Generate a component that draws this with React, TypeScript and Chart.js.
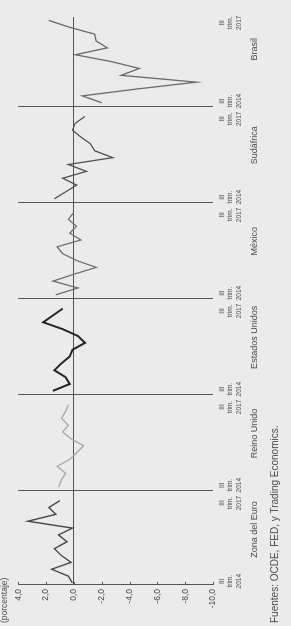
import React, { useEffect, useRef } from 'react';
import { Chart, registerables } from 'chart.js';

Chart.register(...registerables);

// ---- data ----
const regions = ['Zona del Euro', 'Reino Unido', 'Estados Unidos', 'México', 'Sudáfrica', 'Brasil'];
const quarters = [
  'III 2014', 'IV 2014', 'I 2015', 'II 2015', 'III 2015', 'IV 2015',
  'I 2016', 'II 2016', 'III 2016', 'IV 2016', 'I 2017', 'II 2017', 'III 2017',
];
const firstTickLabel = ['III', 'trim.', '2014'];
const lastTickLabel = ['III', 'trim.', '2017'];

const zonaDelEuro = [0.1, 0.4, 1.6, 0.2, 0.9, 1.4, 0.5, 1.1, 0.1, 3.3, 1.3, 1.8, 1.0];
const reinoUnido = [1.1, 0.9, 0.6, 1.2, 0.3, -0.2, -0.7, 0.2, 0.8, 0.4, 0.9, 0.6, 0.4];
const estadosUnidos = [1.5, 0.3, 0.6, 1.4, 0.9, 0.3, 0.1, -0.8, -0.3, 0.8, 2.2, 1.5, 0.8];
const mexico = [1.3, -0.3, 1.5, 0.0, -1.6, -0.2, 0.8, 1.2, -0.5, 0.3, -0.2, 0.4, 0.0];
const sudafrica = [1.4, 0.6, -0.2, 0.8, -0.9, 0.4, -2.8, -1.5, -1.2, -0.5, 0.1, -0.1, -0.8];
const brasil = [-2.0, -0.6, -4.5, -8.8, -3.4, -4.7, -2.7, -0.1, -2.4, -1.6, -1.5, 0.3, 1.8];

const seriesValues = [zonaDelEuro, reinoUnido, estadosUnidos, mexico, sudafrica, brasil];

const yMin = -10;
const yMax = 4;
const yStep = 2;
const axisTitle = '(porcentaje)';
const sourceText = 'Fuentes: OCDE, FED, y Trading Economics.';

// ---- styles ----
const seriesColors = ['#474747', '#ababab', '#262626', '#6f6f6f', '#505050', '#6a6a6a'];
const seriesWidths = [1.4, 1.4, 2.0, 1.3, 1.3, 1.3];
const FONT = "'Liberation Sans', Arial, sans-serif";
const TEXT = '#4a4a4a';
const LINE = '#555555';

const SLOTS = quarters.length + 1;
const pos = (k: number, i: number) => k * SLOTS + i;

const tickLabelMap = new Map<number, string[] | string>();
const separatorSet = new Set<number>();
regions.forEach((_, k) => {
  tickLabelMap.set(pos(k, 0.25), firstTickLabel);
  tickLabelMap.set(pos(k, quarters.length - 1.35), lastTickLabel);
  if (k > 0) {
    const s = pos(k, 0) - 0.5;
    separatorSet.add(s);
    tickLabelMap.set(s, '');
  }
});
const mainTickValues = Array.from(tickLabelMap.keys()).sort((a, b) => a - b);
const regionCenters = regions.map((_, k) => pos(k, 7.8));

const X_MIN = -0.3;
const X_MAX = pos(regions.length - 1, quarters.length - 1) + 0.5;

const innerTicks = {
  id: 'innerTicks',
  afterDraw(chart: any) {
    const { ctx, chartArea, scales } = chart;
    const y = scales.y;
    ctx.save();
    ctx.strokeStyle = LINE;
    ctx.lineWidth = 1;
    y.ticks.forEach((t: any) => {
      const py = Math.round(y.getPixelForValue(t.value)) + 0.5;
      ctx.beginPath();
      ctx.moveTo(chartArea.left, py);
      ctx.lineTo(chartArea.left + 3, py);
      ctx.stroke();
    });
    ctx.restore();
  },
};

export default function App() {
  const ref = useRef<HTMLCanvasElement | null>(null);

  useEffect(() => {
    if (!ref.current) return;
    const datasets = seriesValues.map((vals, k) => ({
      label: regions[k],
      data: vals.map((v, i) => ({ x: pos(k, i), y: v })),
      borderColor: seriesColors[k],
      borderWidth: seriesWidths[k],
      pointRadius: 0,
      tension: 0,
      fill: false,
      xAxisID: 'x',
      yAxisID: 'y',
    }));

    const chart = new Chart(ref.current, {
      type: 'line',
      data: { datasets },
      plugins: [innerTicks],
      options: {
        animation: false,
        responsive: false,
        devicePixelRatio: 1,
        layout: { padding: { left: 3, right: 17, top: 0, bottom: 0 } },
        plugins: {
          legend: { display: false },
          tooltip: { enabled: false },
          title: {
            display: true,
            text: axisTitle,
            align: 'start',
            color: TEXT,
            font: { family: FONT, size: 8.5, weight: 'normal' },
            padding: { top: 0, bottom: 8 },
          },
          subtitle: {
            display: true,
            text: sourceText,
            position: 'bottom',
            align: 'start',
            color: TEXT,
            font: { family: FONT, size: 10, weight: 'normal' },
            padding: { top: 8, bottom: 10 },
          },
        },
        scales: {
          x: {
            type: 'linear',
            position: 'bottom',
            min: X_MIN,
            max: X_MAX,
            weight: 0,
            border: { display: false },
            grid: {
              drawTicks: false,
              color: (ctx: any) =>
                ctx.tick && separatorSet.has(ctx.tick.value) ? LINE : 'rgba(0,0,0,0)',
              lineWidth: 1,
            },
            afterBuildTicks: (scale: any) => {
              scale.ticks = mainTickValues.map((v) => ({ value: v }));
            },
            afterFit: (scale: any) => {
              scale.height = 34;
            },
            ticks: {
              autoSkip: false,
              maxRotation: 0,
              minRotation: 0,
              padding: 5,
              color: TEXT,
              font: { family: FONT, size: 6.5, lineHeight: 1.3 },
              callback: (value: any) => tickLabelMap.get(Number(value)) ?? '',
            },
          },
          region: {
            type: 'linear',
            position: 'bottom',
            min: X_MIN,
            max: X_MAX,
            weight: 1,
            border: { display: false },
            grid: { display: false, drawTicks: false },
            afterBuildTicks: (scale: any) => {
              scale.ticks = regionCenters.map((v) => ({ value: v }));
            },
            afterFit: (scale: any) => {
              scale.height = 14;
            },
            ticks: {
              autoSkip: false,
              maxRotation: 0,
              minRotation: 0,
              padding: 2,
              color: TEXT,
              font: { family: FONT, size: 9 },
              callback: (value: any) => {
                const idx = regionCenters.indexOf(Number(value));
                return idx >= 0 ? regions[idx] : '';
              },
            },
          },
          y: {
            type: 'linear',
            min: yMin,
            max: yMax,
            border: { display: true, color: LINE, width: 1 },
            grid: {
              drawTicks: false,
              color: (ctx: any) => (ctx.tick && ctx.tick.value === 0 ? LINE : 'rgba(0,0,0,0)'),
              lineWidth: 1,
            },
            afterFit: (scale: any) => {
              scale.width = 38;
            },
            ticks: {
              stepSize: yStep,
              padding: 4,
              color: TEXT,
              font: { family: FONT, size: 8.5 },
              callback: (value: any) => Number(value).toFixed(1).replace('.', ','),
            },
          },
        },
      } as any,
    });
    return () => chart.destroy();
  }, []);

  return (
    <div
      style={{
        position: 'absolute',
        left: 0,
        top: 0,
        width: 291,
        height: 626,
        overflow: 'hidden',
        background: '#ebebeb',
      }}
    >
      <div
        style={{
          position: 'absolute',
          left: 0,
          top: 0,
          width: 626,
          height: 291,
          transformOrigin: '0 0',
          transform: 'translateY(626px) rotate(-90deg)',
        }}
      >
        <canvas ref={ref} width={626} height={291} style={{ display: 'block' }} />
      </div>
    </div>
  );
}
